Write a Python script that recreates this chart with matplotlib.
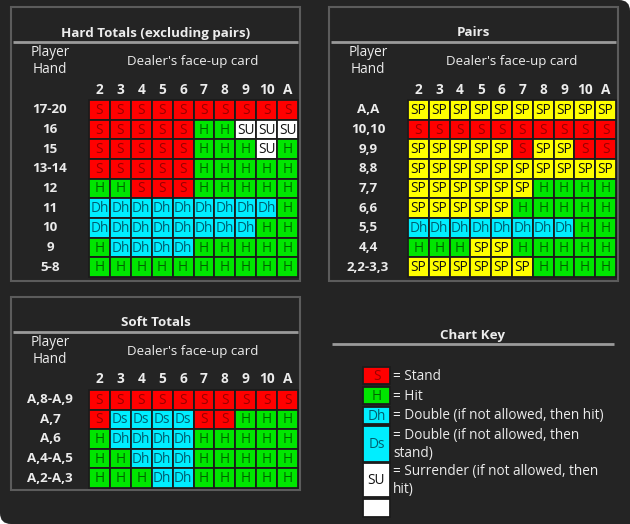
import matplotlib
matplotlib.use("Agg")
import matplotlib.pyplot as plt
from matplotlib.patches import Rectangle, FancyBboxPatch

plt.rcParams['font.family'] = ['Open Sans', 'DejaVu Sans']

dealer_cards = ["2", "3", "4", "5", "6", "7", "8", "9", "10", "A"]

hard_labels = ["17-20", "16", "15", "13-14", "12", "11", "10", "9", "5-8"]
hard_moves = [
    ["S", "S", "S", "S", "S", "S", "S", "S", "S", "S"],
    ["S", "S", "S", "S", "S", "H", "H", "SU", "SU", "SU"],
    ["S", "S", "S", "S", "S", "H", "H", "H", "SU", "H"],
    ["S", "S", "S", "S", "S", "H", "H", "H", "H", "H"],
    ["H", "H", "S", "S", "S", "H", "H", "H", "H", "H"],
    ["Dh", "Dh", "Dh", "Dh", "Dh", "Dh", "Dh", "Dh", "Dh", "H"],
    ["Dh", "Dh", "Dh", "Dh", "Dh", "Dh", "Dh", "Dh", "H", "H"],
    ["H", "Dh", "Dh", "Dh", "Dh", "H", "H", "H", "H", "H"],
    ["H", "H", "H", "H", "H", "H", "H", "H", "H", "H"],
]

pair_labels = ["A,A", "10,10", "9,9", "8,8", "7,7", "6,6", "5,5", "4,4", "2,2-3,3"]
pair_moves = [
    ["SP"] * 10,
    ["S"] * 10,
    ["SP", "SP", "SP", "SP", "SP", "S", "SP", "SP", "S", "S"],
    ["SP"] * 10,
    ["SP", "SP", "SP", "SP", "SP", "SP", "H", "H", "H", "H"],
    ["SP", "SP", "SP", "SP", "SP", "H", "H", "H", "H", "H"],
    ["Dh", "Dh", "Dh", "Dh", "Dh", "Dh", "Dh", "Dh", "H", "H"],
    ["H", "H", "H", "SP", "SP", "H", "H", "H", "H", "H"],
    ["SP", "SP", "SP", "SP", "SP", "SP", "H", "H", "H", "H"],
]

soft_labels = ["A,8-A,9", "A,7", "A,6", "A,4-A,5", "A,2-A,3"]
soft_moves = [
    ["S"] * 10,
    ["S", "Ds", "Ds", "Ds", "Ds", "S", "S", "H", "H", "H"],
    ["H", "Dh", "Dh", "Dh", "Dh", "H", "H", "H", "H", "H"],
    ["H", "H", "Dh", "Dh", "Dh", "H", "H", "H", "H", "H"],
    ["H", "H", "H", "Dh", "Dh", "H", "H", "H", "H", "H"],
]

key_codes = ["S", "H", "Dh", "Ds", "SU", ""]
key_texts = ["= Stand", "= Hit", "= Double (if not allowed, then hit)",
             "= Double (if not allowed, then\nstand)",
             "= Surrender (if not allowed, then\nhit)", ""]

FILL = {"S": "#ff0000", "H": "#00e600", "Dh": "#00eeff", "Ds": "#00eeff",
        "SU": "#ffffff", "SP": "#ffff00", "": "#ffffff"}
TXT = {"S": "#9a0000", "H": "#006400", "Dh": "#005f70", "Ds": "#005f70",
       "SU": "#111111", "SP": "#111111", "": "#111111"}

BG = "#242424"
FG = "#ececec"

fig = plt.figure(figsize=(6.3, 5.24), dpi=100, facecolor="white")
ax = fig.add_axes([0, 0, 1, 1])
ax.set_xlim(0, 630)
ax.set_ylim(524, 0)
ax.axis("off")

# background with rounded top-right and bottom-left corners
ax.add_patch(FancyBboxPatch((0, 0), 630, 524, boxstyle="round,pad=0,rounding_size=11",
                            facecolor=BG, edgecolor="none"))
ax.add_patch(Rectangle((0, 0), 20, 20, facecolor=BG, edgecolor="none"))
ax.add_patch(Rectangle((610, 504), 20, 20, facecolor=BG, edgecolor="none"))


def panel(x0, y0, x1, y1, title, title_y, line_y, box=True):
    if box:
        ax.add_patch(Rectangle((x0, y0), x1 - x0, y1 - y0, facecolor="none",
                               edgecolor="#5c5c5c", lw=1.5))
    ax.text((x0 + x1) / 2, title_y, title, color=FG, fontsize=9.6, fontweight="bold",
            ha="center", va="center")
    ax.plot([x0 + 2, x1 - 2], [line_y, line_y], color="#9a9a9a", lw=2, solid_capstyle="butt")


def table(gx0, gx1, gy0, gy1, labels, moves, label_x, head_y, ph_y, dealer_x):
    ncol = len(dealer_cards)
    nrow = len(labels)
    cw = (gx1 - gx0) / ncol
    rh = (gy1 - gy0) / nrow
    ax.text(label_x, ph_y, "Player\nHand", color=FG, fontsize=9.8, ha="center",
            va="center", linespacing=1.2)
    ax.text(dealer_x, ph_y, "Dealer's face-up card", color=FG, fontsize=9.6,
            ha="center", va="center")
    for j, c in enumerate(dealer_cards):
        ax.text(gx0 + (j + 0.5) * cw, head_y, c, color=FG, fontsize=9.8, fontweight="bold",
                ha="center", va="center")
    for i, lab in enumerate(labels):
        yc = gy0 + (i + 0.5) * rh
        ax.text(label_x, yc, lab, color=FG, fontsize=9.6, fontweight="bold",
                ha="center", va="center")
        for j, m in enumerate(moves[i]):
            ax.add_patch(Rectangle((gx0 + j * cw, gy0 + i * rh), cw, rh,
                                   facecolor=FILL[m], edgecolor="#1c1c1c", lw=1.3))
            ax.text(gx0 + (j + 0.5) * cw, yc + 0.5, m, color=TXT[m], fontsize=9.8,
                    ha="center", va="center")


panel(11, 7, 300, 281, "Hard Totals (excluding pairs)", 33, 42)
table(89, 298, 100, 277, hard_labels, hard_moves, 50, 90, 61, 193)

panel(329, 7, 618, 281, "Pairs", 33, 42)
table(408, 616, 100, 277, pair_labels, pair_moves, 368, 90, 61, 512)

panel(11, 297, 300, 490, "Soft Totals", 322, 332)
table(89, 298, 390, 488, soft_labels, soft_moves, 50, 379, 351, 193)

panel(330, 300, 616, 500, "Chart Key", 335, 344, box=False)
key_tops = [367, 387, 407, 426, 463, 499]
key_bots = [384, 404, 424, 462, 497, 517]
for code, txt, t, b in zip(key_codes, key_texts, key_tops, key_bots):
    ax.add_patch(Rectangle((363, t), 27, b - t, facecolor=FILL[code],
                           edgecolor="#1c1c1c", lw=1.3))
    if code:
        ax.text(376.5, (t + b) / 2 + 0.5, code, color=TXT[code], fontsize=9.8,
                ha="center", va="center")
    if txt:
        ax.text(393, (t + b) / 2 + 0.5, txt, color=FG, fontsize=9.8, ha="left",
                va="center", linespacing=1.2)

fig.savefig("out.png", dpi=100, facecolor="white")
